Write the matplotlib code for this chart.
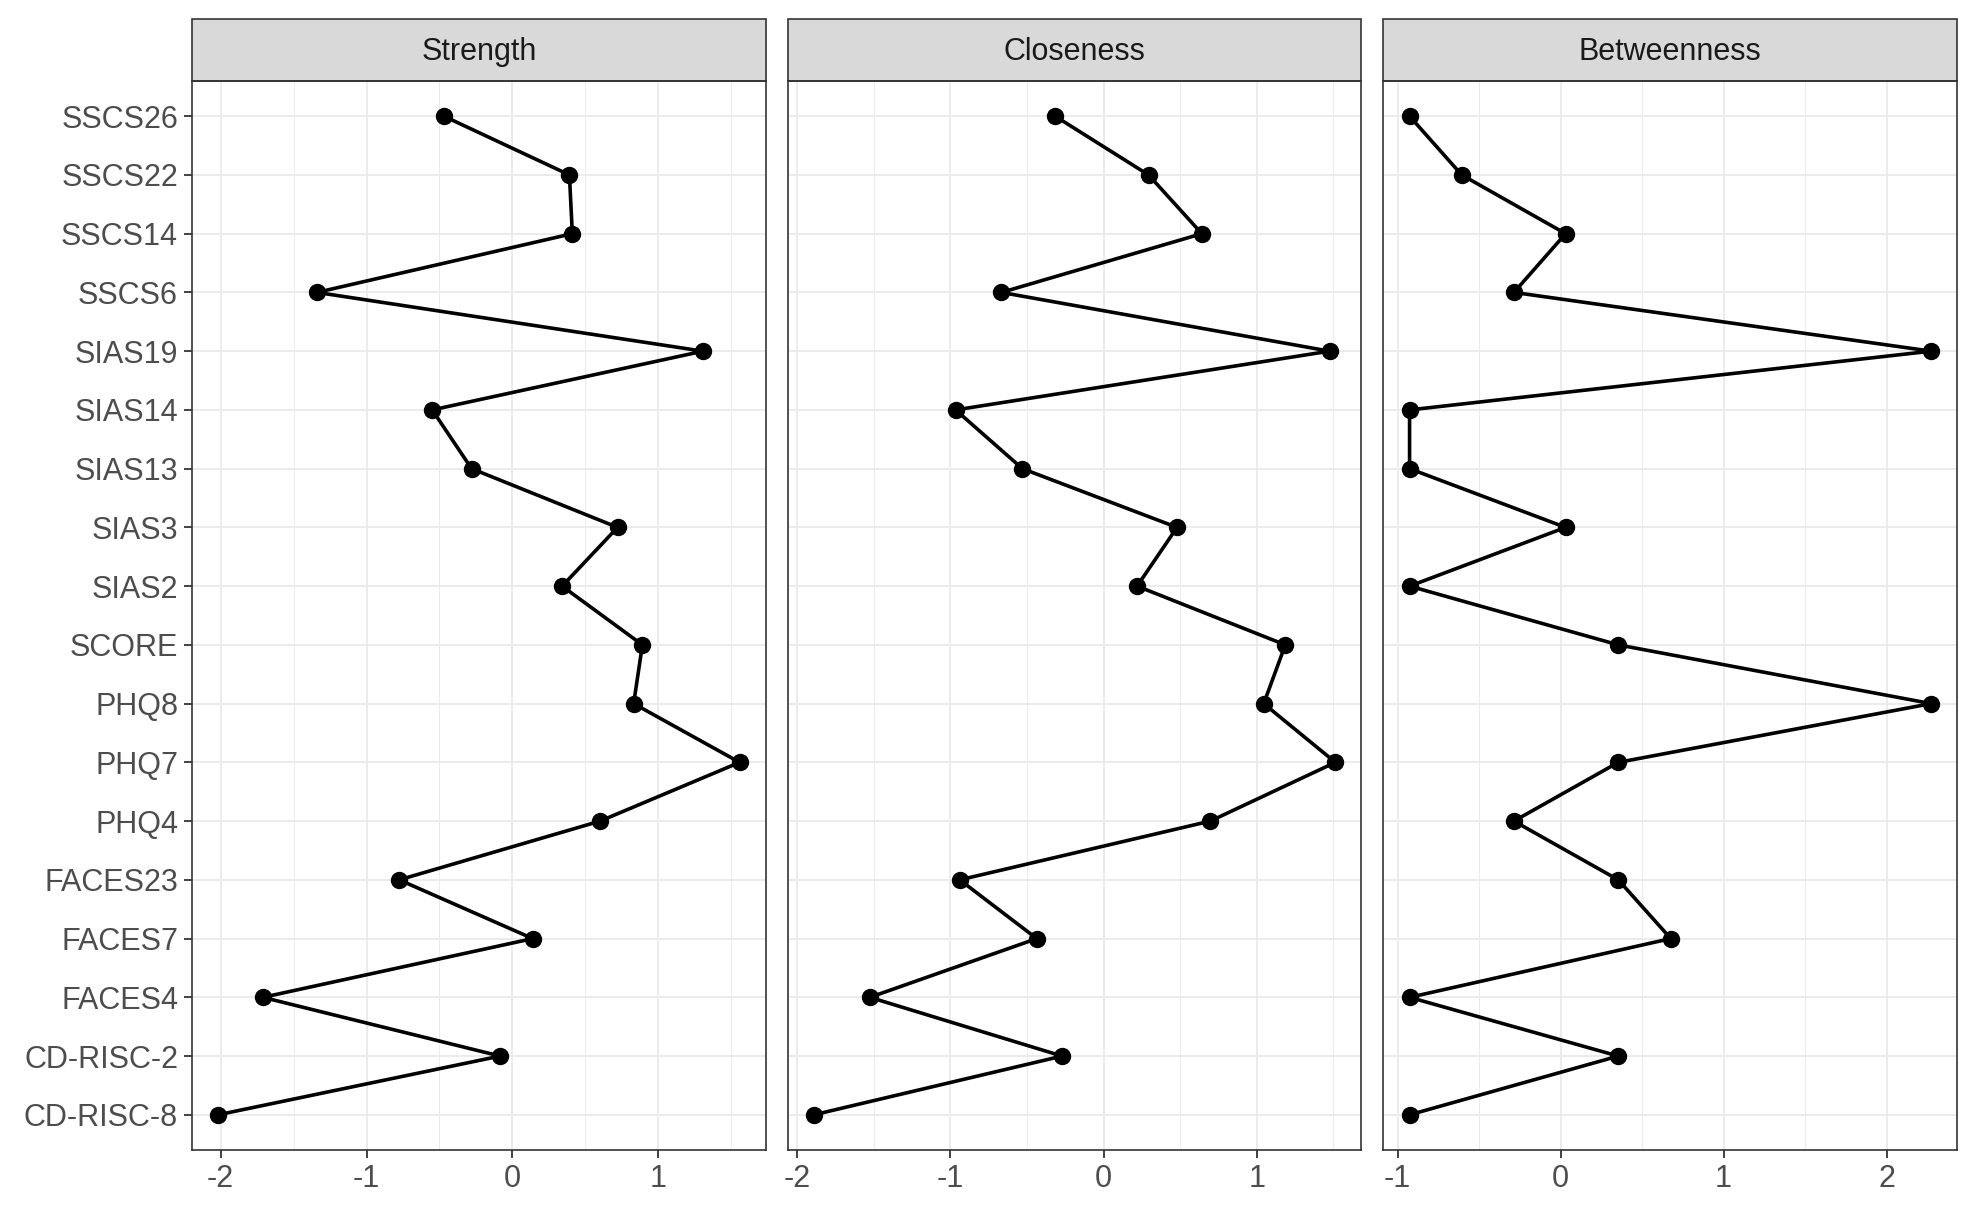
import numpy as np
import matplotlib.pyplot as plt
from matplotlib.patches import Rectangle
from matplotlib.ticker import MultipleLocator

plt.rcParams['font.family'] = ['Liberation Sans', 'DejaVu Sans']

# nodes, bottom to top
nodes = ["CD-RISC-8", "CD-RISC-2", "FACES4", "FACES7", "FACES23", "PHQ4", "PHQ7",
         "PHQ8", "SCORE", "SIAS2", "SIAS3", "SIAS13", "SIAS14", "SIAS19", "SSCS6",
         "SSCS14", "SSCS22", "SSCS26"]

strength = [-2.017, -0.085, -1.71, 0.139, -0.776, 0.60, 1.556, 0.83, 0.89,
            0.34, 0.72, -0.28, -0.55, 1.305, -1.34, 0.41, 0.39, -0.47]
closeness = [-1.892, -0.271, -1.526, -0.436, -0.939, 0.697, 1.514, 1.046, 1.187,
             0.219, 0.480, -0.530, -0.966, 1.476, -0.667, 0.642, 0.294, -0.316]
betweenness = [-0.926, 0.354, -0.926, 0.676, 0.354, -0.286, 0.354, 2.273, 0.354,
               -0.926, 0.031, -0.926, -0.926, 2.273, -0.286, 0.031, -0.606, -0.926]

panels = ["Strength", "Closeness", "Betweenness"]
values = [strength, closeness, betweenness]

fig, axes = plt.subplots(1, 3, figsize=(19.77, 12.21), dpi=100, sharey=True)
fig.subplots_adjust(left=0.0971, right=0.990, top=0.9337, bottom=0.0581, wspace=0.0384)

ypos = np.arange(1, len(nodes) + 1)
for ax, name, vals in zip(axes, panels, values):
    ax.plot(vals, ypos, color='black', lw=2.6, marker='o', ms=11.5, zorder=3)
    ax.set_ylim(0.4, len(nodes) + 0.6)
    ax.margins(x=0.05)
    ax.xaxis.set_major_locator(MultipleLocator(1))
    ax.xaxis.set_minor_locator(MultipleLocator(0.5))
    ax.grid(which='major', color='#EBEBEB', lw=1.4, zorder=0)
    ax.grid(which='minor', axis='x', color='#EBEBEB', lw=0.7, zorder=0)
    ax.set_axisbelow(True)
    for s in ax.spines.values():
        s.set_color('#333333')
        s.set_linewidth(1.2)
    ax.tick_params(which='major', length=6, width=1.3, color='#333333',
                   labelsize=22, labelcolor='#4D4D4D', pad=4)
    ax.tick_params(which='minor', length=0)
    ax.xaxis.set_major_formatter(plt.FuncFormatter(lambda v, p: f"{v:g}"))
    # facet strip
    ax.add_patch(Rectangle((0, 1), 1, 0.058, transform=ax.transAxes, clip_on=False,
                           facecolor='#D9D9D9', edgecolor='#333333', lw=1.2))
    ax.text(0.5, 1.027, name, transform=ax.transAxes, ha='center', va='center',
            fontsize=22, color='#1A1A1A')

axes[0].set_yticks(ypos)
axes[0].set_yticklabels(nodes)
for ax in axes[1:]:
    ax.tick_params(axis='y', length=0, labelleft=False)

fig.savefig('out.png', dpi=100)
